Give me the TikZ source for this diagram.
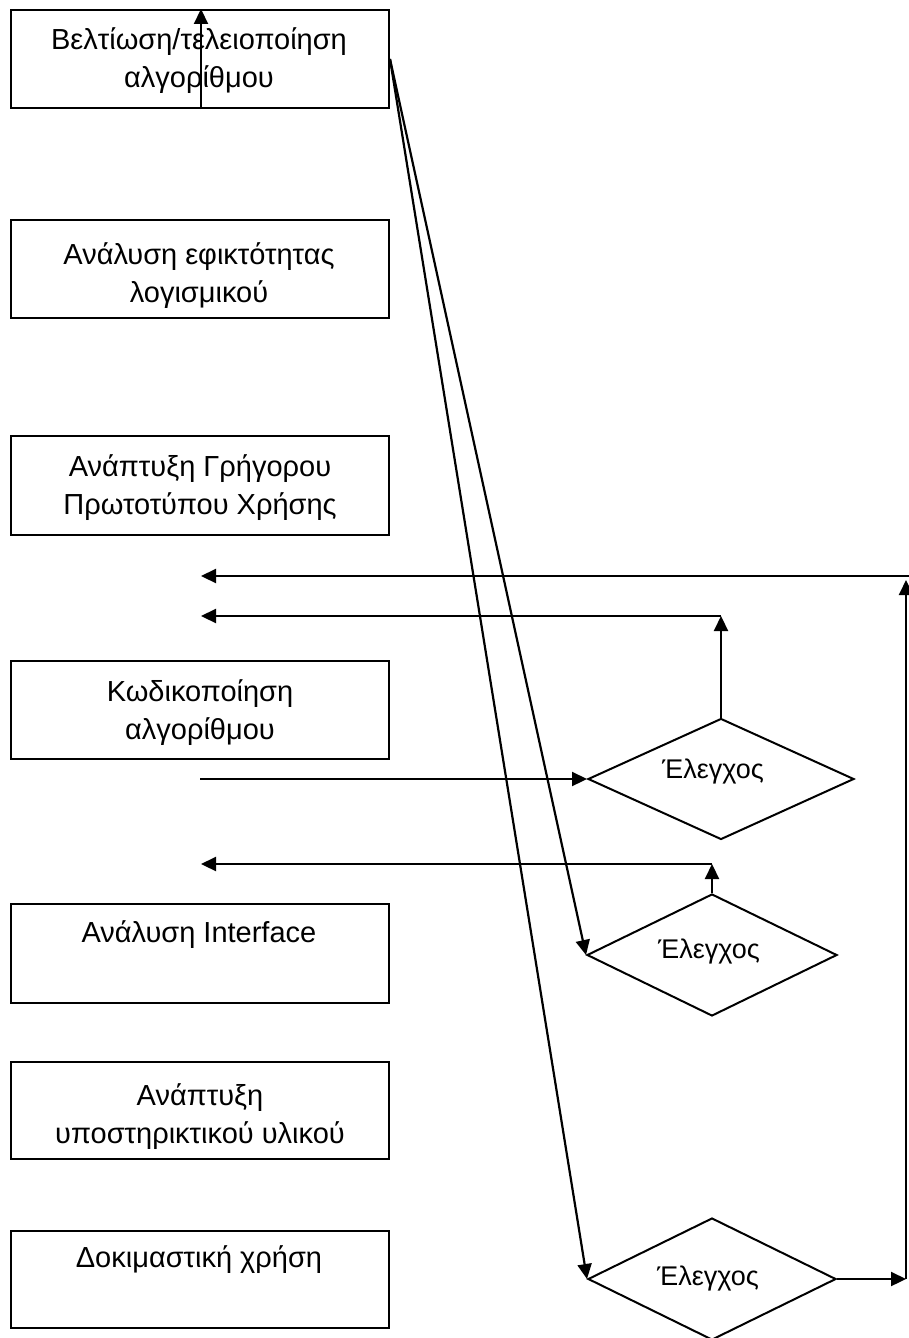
\documentclass[tikz,border=0pt]{standalone}
\usepackage{fontspec}
\setmainfont{Liberation Sans}
\usetikzlibrary{arrows.meta,shapes.geometric}
\begin{document}
\begin{tikzpicture}[x=1pt,y=-1pt,
  box/.style={draw,line width=2pt,rectangle,minimum width=378pt,minimum height=98pt,inner sep=0pt},
  lbl/.style={font=\fontsize{29}{38}\selectfont,align=center,anchor=base,inner sep=0pt},
  chk/.style={draw,line width=2pt,diamond,inner sep=0pt},
  chklbl/.style={font=\fontsize{27}{30}\selectfont,anchor=base,inner sep=0pt},
  arr/.style={line width=2.2pt,-{Triangle[length=15pt,width=14pt]}}]
\useasboundingbox (0,0) rectangle (909,1338);

% boxes
\node[box] (b1) at (200,59) {};
\node[box] (b2) at (200,269) {};
\node[box,minimum height=99pt] (b3) at (200,485.5) {};
\node[box] (b4) at (200,710) {};
\node[box,minimum height=99pt] (b5) at (200,953.5) {};
\node[box,minimum height=97pt] (b6) at (200,1110.5) {};
\node[box,minimum height=97pt] (b7) at (200,1279.5) {};

% box texts (base = last line)
\node[lbl] (t1) at (199,88) {Βελτίωση/τελειοποίηση\\αλγορίθμου};
\node[lbl] (t2) at (199,302) {Ανάλυση εφικτότητας\\λογισμικού};
\node[lbl] (t3) at (200,514) {Ανάπτυξη Γρήγορου\\Πρωτοτύπου Χρήσης};
\node[lbl] (t4) at (200,739) {Κωδικοποίηση\\αλγορίθμου};
\node[lbl] (t5) at (199,942) {Ανάλυση Interface};
\node[lbl] (t6) at (200,1143) {Ανάπτυξη\\υποστηρικτικού υλικού};
\node[lbl] (t7) at (199,1267) {Δοκιμαστική χρήση};

% diamonds
\node[chk,minimum width=266pt,minimum height=121pt] (d1) at (721,779) {};
\node[chk,minimum width=250pt,minimum height=122pt] (d2) at (712,955) {};
\node[chk,minimum width=248pt,minimum height=122pt] (d3) at (712,1279) {};
\node[chklbl] (e1) at (713,778) {Έλεγχος};
\node[chklbl] (e2) at (709,958) {Έλεγχος};
\node[chklbl] (e3) at (708,1285) {Έλεγχος};

% free ends
\coordinate (h1r) at (909,576);
\coordinate (h1l) at (201,576);
\coordinate (h2r) at (721,616);
\coordinate (h2l) at (201,616);
\coordinate (h3l) at (200,779);
\coordinate (h4r) at (712,864);
\coordinate (h4l) at (201,864);
\coordinate (vr) at (906,1279);
\coordinate (vt) at (906,580);

% connectors
\draw[arr] ([xshift=1pt]b1.south) -- ([xshift=1pt]b1.north);
\draw[arr] (h1r) -- (h1l);
\draw[arr] (d1.north) -- (h2r);
\draw[arr] (h2r) -- (h2l);
\draw[arr] (h3l) -- (d1.west);
\draw[arr] (d2.north) -- (h4r);
\draw[arr] (h4r) -- (h4l);
\draw[arr] (b1.east) -- (d2.west);
\draw[arr] (b1.east) -- (d3.west);
\draw[arr] (d3.east) -- (vr);
\draw[arr] (vr) -- (vt);
\end{tikzpicture}
\end{document}
